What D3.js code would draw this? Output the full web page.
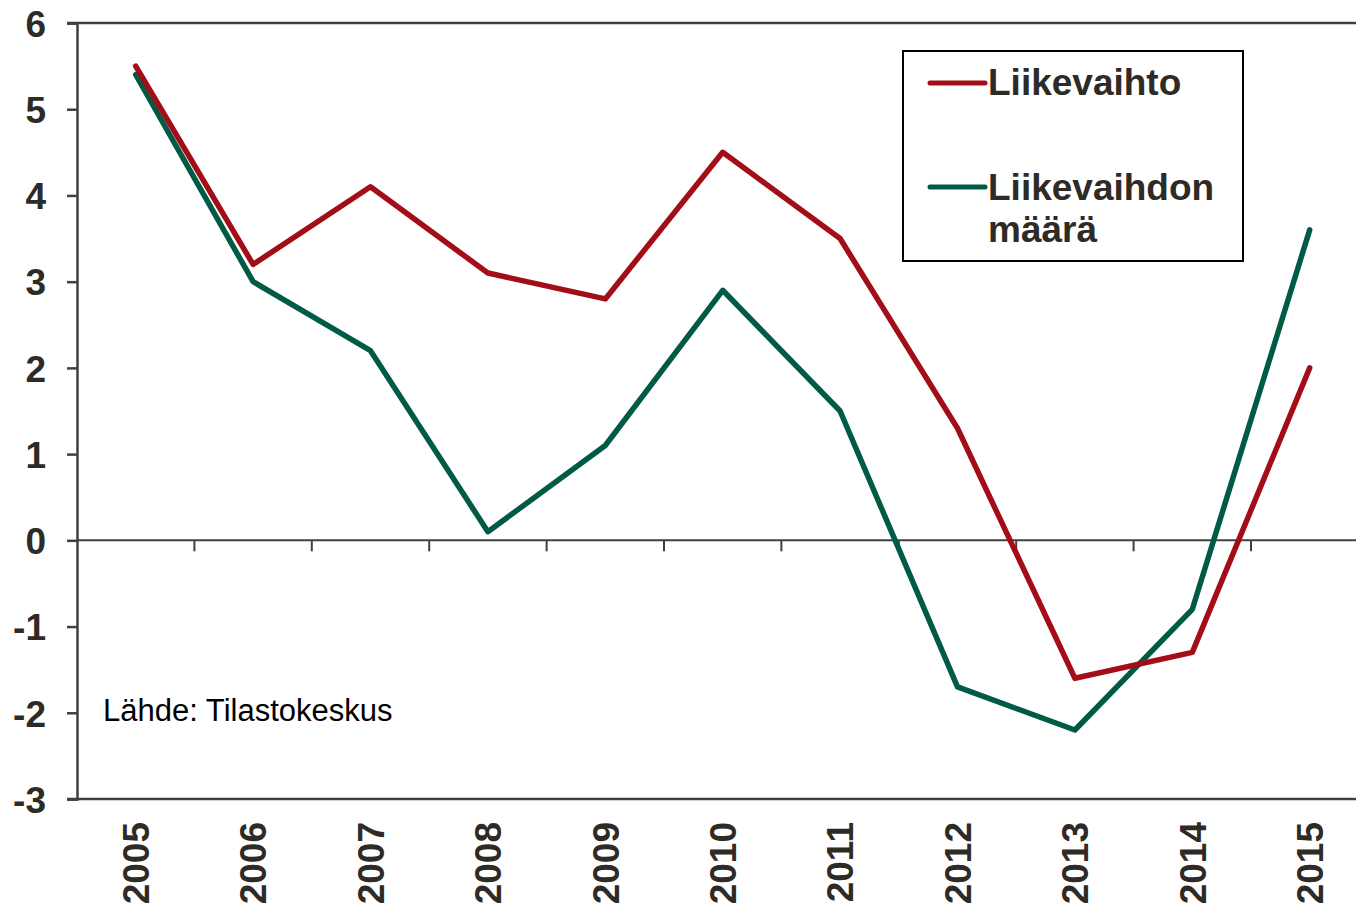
<!DOCTYPE html>
<html>
<head>
<meta charset="utf-8">
<title>Liikevaihto</title>
<script src="https://d3js.org/d3.v7.min.js"></script>
<style>
  body { margin: 0; background: #fff; }
  text { font-family: "Liberation Sans", Arial, sans-serif; }
</style>
</head>
<body>
<svg width="1356" height="905"></svg>
<script>
// data
var years = ["2005", "2006", "2007", "2008", "2009", "2010", "2011", "2012", "2013", "2014", "2015"];
var liikevaihto = [5.5, 3.2, 4.1, 3.1, 2.8, 4.5, 3.5, 1.3, -1.6, -1.3, 2.0];
var maara = [5.4, 3.0, 2.2, 0.1, 1.1, 2.9, 1.5, -1.7, -2.2, -0.8, 3.6];
var yTicks = [-3, -2, -1, 0, 1, 2, 3, 4, 5, 6];
var seriesNames = ["Liikevaihto", "Liikevaihdon määrä"];

var svg = d3.select("svg"),
    plotLeft = 77, plotTop = 23, plotBottom = 799,
    step = 117.4;

var x = d3.scaleBand().domain(years).range([plotLeft, plotLeft + step * years.length]);
var y = d3.scaleLinear().domain([-3, 6]).range([plotBottom, plotTop]);

var axisCol = "#404040", textCol = "#2e2a25";

// frame lines: top and bottom
svg.append("line").attr("x1", plotLeft - 10).attr("x2", 1356).attr("y1", y(6)).attr("y2", y(6))
  .attr("stroke", axisCol).attr("stroke-width", 2.5);
svg.append("line").attr("x1", plotLeft - 10).attr("x2", 1356).attr("y1", y(-3)).attr("y2", y(-3))
  .attr("stroke", axisCol).attr("stroke-width", 2.5);

// y axis (plain hyphen for negatives, like the original)
var yAxis = svg.append("g").attr("transform", "translate(" + plotLeft + ",0)")
  .call(d3.axisLeft(y).tickValues(yTicks).tickSize(10).tickFormat(function(d) { return String(d); }));
yAxis.select(".domain").attr("stroke", axisCol).attr("stroke-width", 2.5);
yAxis.selectAll(".tick line").attr("stroke", axisCol).attr("stroke-width", 2.5);
yAxis.selectAll(".tick text")
  .attr("x", -31).attr("dy", "0.36em")
  .attr("fill", textCol).attr("font-size", 37).attr("font-weight", "bold")
  .style("font-family", "'Liberation Sans', Arial, sans-serif");

// zero line with ticks between categories
svg.append("line").attr("x1", plotLeft).attr("x2", 1356).attr("y1", y(0)).attr("y2", y(0))
  .attr("stroke", axisCol).attr("stroke-width", 2);
svg.selectAll(".cattick").data(years.slice(1)).enter().append("line")
  .attr("x1", function(d) { return x(d); }).attr("x2", function(d) { return x(d); })
  .attr("y1", y(0)).attr("y2", y(0) + 11)
  .attr("stroke", axisCol).attr("stroke-width", 2);

// x labels, rotated
svg.selectAll(".xlab").data(years).enter().append("text")
  .attr("transform", function(d) { return "translate(" + (x(d) + x.bandwidth() / 2) + ",822) rotate(-90)"; })
  .attr("text-anchor", "end").attr("dy", "0.36em")
  .attr("fill", textCol).attr("font-size", 37).attr("font-weight", "bold")
  .text(function(d) { return d; });

// lines
var line = d3.line()
  .x(function(d, i) { return x(years[i]) + x.bandwidth() / 2; })
  .y(function(d) { return y(d); });

var colors = ["#a30d17", "#005a46"];
[maara, liikevaihto].forEach(function(s, k) {
  svg.append("path").datum(s)
    .attr("fill", "none")
    .attr("stroke", k === 0 ? colors[1] : colors[0])
    .attr("stroke-width", 5.5)
    .attr("stroke-linejoin", "round")
    .attr("stroke-linecap", "round")
    .attr("d", line);
});

// legend
var lg = svg.append("g");
lg.append("rect").attr("x", 903).attr("y", 51).attr("width", 340).attr("height", 210)
  .attr("fill", "#fff").attr("stroke", "#000").attr("stroke-width", 2);
lg.append("line").attr("x1", 930).attr("x2", 985).attr("y1", 83).attr("y2", 83)
  .attr("stroke", colors[0]).attr("stroke-width", 5).attr("stroke-linecap", "round");
lg.append("line").attr("x1", 930).attr("x2", 985).attr("y1", 187).attr("y2", 187)
  .attr("stroke", colors[1]).attr("stroke-width", 5).attr("stroke-linecap", "round");
lg.append("text").attr("x", 988).attr("y", 95)
  .attr("fill", textCol).attr("font-size", 37).attr("font-weight", "bold")
  .text(seriesNames[0]);
var t2 = lg.append("text").attr("x", 988).attr("y", 200)
  .attr("fill", textCol).attr("font-size", 37).attr("font-weight", "bold");
t2.append("tspan").attr("x", 988).text("Liikevaihdon");
t2.append("tspan").attr("x", 988).attr("dy", 42).text("määrä");

// source
svg.append("text").attr("x", 103).attr("y", 721)
  .attr("fill", "#000").attr("font-size", 31)
  .text("Lähde: Tilastokeskus");
</script>
</body>
</html>
